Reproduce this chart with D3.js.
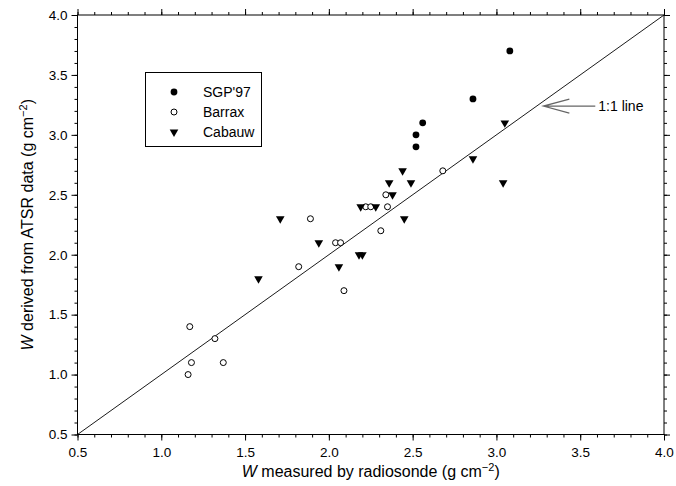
<!DOCTYPE html>
<html>
<head>
<meta charset="utf-8">
<script src="https://cdn.jsdelivr.net/npm/d3@7"></script>
<style>
  html, body { margin: 0; padding: 0; background: #fff; }
  svg { display: block; font-family: "Liberation Sans", Arial, Helvetica, sans-serif; }
</style>
</head>
<body>
<svg id="chart" width="676" height="486"></svg>
<script>
// ---- data ----
const sgpX = [3.08, 2.86, 2.56, 2.52, 2.52];
const sgpY = [3.7, 3.3, 3.1, 3.0, 2.9];

const barraxX = [1.16, 1.17, 1.18, 1.32, 1.37, 1.82, 1.89, 2.04, 2.07, 2.09, 2.22, 2.25, 2.31, 2.34, 2.35, 2.68];
const barraxY = [1.0, 1.4, 1.1, 1.3, 1.1, 1.9, 2.3, 2.1, 2.1, 1.7, 2.4, 2.4, 2.2, 2.5, 2.4, 2.7];

const cabauwX = [1.58, 1.71, 1.94, 2.06, 2.18, 2.20, 2.19, 2.28, 2.36, 2.38, 2.44, 2.45, 2.49, 2.86, 3.05, 3.04];
const cabauwY = [1.8, 2.3, 2.1, 1.9, 2.0, 2.0, 2.4, 2.4, 2.6, 2.5, 2.7, 2.3, 2.6, 2.8, 3.1, 2.6];

const seriesNames = ["SGP'97", "Barrax", "Cabauw"];
const majorTicks = [0.5, 1.0, 1.5, 2.0, 2.5, 3.0, 3.5, 4.0];
const tickLabels = ["0.5", "1.0", "1.5", "2.0", "2.5", "3.0", "3.5", "4.0"];
const domain = [0.5, 4.0];
const oneToOne = [0.5, 4.0];
const arrowTip = [3.28, 3.24];
const arrowTail = [3.59, 3.24];
const annotationText = "1:1 line";

// ---- layout ----
const svg = d3.select("#chart");
const mLeft = 77.5, mRight = 664, mTop = 15, mBottom = 434.5;

const x = d3.scaleLinear().domain(domain).range([mLeft, mRight]);
const y = d3.scaleLinear().domain(domain).range([mBottom, mTop]);

const minorTicks = d3.range(5, 41).map(d => d / 10);

function styleLabels(g) {
  g.selectAll("text").attr("font-size", 13.5)
    .attr("font-family", "Liberation Sans, Arial, sans-serif").attr("fill", "#000");
}

// bottom
svg.append("g").attr("transform", `translate(0,${mBottom})`)
  .call(d3.axisBottom(x).tickValues(minorTicks).tickSize(3).tickFormat(""))
  .call(g => g.select(".domain").remove());
svg.append("g").attr("transform", `translate(0,${mBottom})`)
  .call(d3.axisBottom(x).tickValues(majorTicks).tickSize(6).tickPadding(7).tickFormat((d, i) => tickLabels[i]))
  .call(g => g.select(".domain").remove())
  .call(styleLabels);
// top
svg.append("g").attr("transform", `translate(0,${mTop})`)
  .call(d3.axisTop(x).tickValues(minorTicks).tickSize(3).tickFormat(""))
  .call(g => g.select(".domain").remove());
svg.append("g").attr("transform", `translate(0,${mTop})`)
  .call(d3.axisTop(x).tickValues(majorTicks).tickSize(6).tickFormat(""))
  .call(g => g.select(".domain").remove());
// left
svg.append("g").attr("transform", `translate(${mLeft},0)`)
  .call(d3.axisLeft(y).tickValues(minorTicks).tickSize(3).tickFormat(""))
  .call(g => g.select(".domain").remove());
svg.append("g").attr("transform", `translate(${mLeft},0)`)
  .call(d3.axisLeft(y).tickValues(majorTicks).tickSize(6).tickPadding(4).tickFormat((d, i) => tickLabels[i]))
  .call(g => g.select(".domain").remove())
  .call(styleLabels);
// right
svg.append("g").attr("transform", `translate(${mRight},0)`)
  .call(d3.axisRight(y).tickValues(minorTicks).tickSize(3).tickFormat(""))
  .call(g => g.select(".domain").remove());
svg.append("g").attr("transform", `translate(${mRight},0)`)
  .call(d3.axisRight(y).tickValues(majorTicks).tickSize(6).tickFormat(""))
  .call(g => g.select(".domain").remove());

svg.selectAll(".tick line").attr("stroke", "#000").attr("stroke-width", 1);

// frame
svg.append("rect")
  .attr("x", x(domain[0])).attr("y", y(domain[1]))
  .attr("width", x(domain[1]) - x(domain[0]))
  .attr("height", y(domain[0]) - y(domain[1]))
  .attr("fill", "none").attr("stroke", "#000").attr("stroke-width", 1);

// 1:1 line
svg.append("line")
  .attr("x1", x(oneToOne[0])).attr("y1", y(oneToOne[0]))
  .attr("x2", x(oneToOne[1])).attr("y2", y(oneToOne[1]))
  .attr("stroke", "#000").attr("stroke-width", 0.9);

// annotation arrow
const tipX = x(arrowTip[0]), tipY = y(arrowTip[1]);
const tailX = x(arrowTail[0]);
svg.append("path")
  .attr("d", `M${tailX},${tipY} L${tipX},${tipY} M${tipX + 26},${tipY - 7} L${tipX},${tipY} L${tipX + 26},${tipY + 7}`)
  .attr("fill", "none").attr("stroke", "#666").attr("stroke-width", 1.2);
svg.append("text")
  .attr("x", tailX + 3).attr("y", tipY + 5)
  .attr("font-size", 14).attr("fill", "#000")
  .text(annotationText);

// points
const sgp = sgpX.map((v, i) => [v, sgpY[i]]);
const barrax = barraxX.map((v, i) => [v, barraxY[i]]);
const cabauw = cabauwX.map((v, i) => [v, cabauwY[i]]);

const tri = d3.symbol(d3.symbolTriangle, 32);

svg.append("g").selectAll("circle").data(barrax).join("circle")
  .attr("cx", d => x(d[0])).attr("cy", d => y(d[1])).attr("r", 3)
  .attr("fill", "#fff").attr("stroke", "#000").attr("stroke-width", 1);
svg.append("g").selectAll("path").data(cabauw).join("path")
  .attr("d", tri)
  .attr("transform", d => `translate(${x(d[0])},${y(d[1])}) rotate(180)`)
  .attr("fill", "#000");
svg.append("g").selectAll("circle").data(sgp).join("circle")
  .attr("cx", d => x(d[0])).attr("cy", d => y(d[1])).attr("r", 3.4)
  .attr("fill", "#000");

// legend
const lg = svg.append("g");
lg.append("rect").attr("x", 145.5).attr("y", 72.5).attr("width", 116).attr("height", 74)
  .attr("fill", "#fff").attr("stroke", "#000").attr("stroke-width", 1);
const legY = [92, 112, 132];
const mk = 174;
lg.append("circle").attr("cx", mk).attr("cy", legY[0]).attr("r", 3.4).attr("fill", "#000");
lg.append("circle").attr("cx", mk).attr("cy", legY[1]).attr("r", 3).attr("fill", "#fff").attr("stroke", "#000");
lg.append("path").attr("d", tri).attr("transform", `translate(${mk},${legY[2]}) rotate(180)`).attr("fill", "#000");
seriesNames.forEach((n, i) => {
  lg.append("text").attr("x", 203).attr("y", legY[i] + 5).attr("font-size", 14).attr("fill", "#000").text(n);
});

// axis titles
const xt = svg.append("text")
  .attr("x", (mLeft + mRight) / 2).attr("y", 477)
  .attr("text-anchor", "middle").attr("font-size", 16).attr("fill", "#000");
xt.append("tspan").attr("font-style", "italic").text("W");
xt.append("tspan").text(" measured by radiosonde (g cm");
xt.append("tspan").attr("dy", -6).attr("font-size", 11).text("−2");
xt.append("tspan").attr("dy", 6).text(")");

const yt = svg.append("text")
  .attr("transform", `translate(33,${(mTop + mBottom) / 2}) rotate(-90)`)
  .attr("text-anchor", "middle").attr("font-size", 16).attr("fill", "#000");
yt.append("tspan").attr("font-style", "italic").text("W");
yt.append("tspan").text(" derived from ATSR data (g cm");
yt.append("tspan").attr("dy", -6).attr("font-size", 11).text("−2");
yt.append("tspan").attr("dy", 6).text(")");
</script>
</body>
</html>
